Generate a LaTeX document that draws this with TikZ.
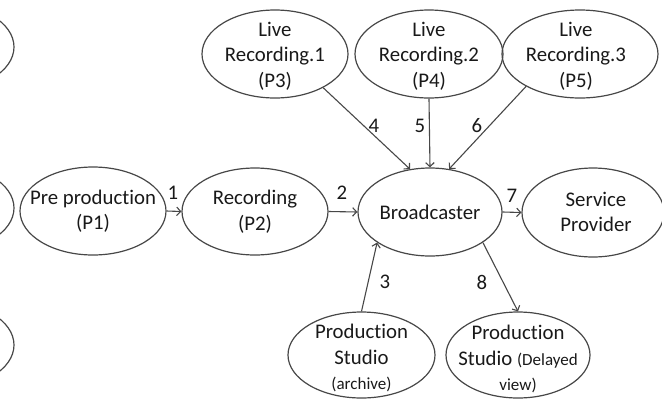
\documentclass[tikz,border=0pt]{standalone}
\usepackage{fontspec}
\setmainfont{Carlito}[Ligatures=NoCommon]
\usetikzlibrary{shapes.geometric,arrows.meta}
\newcommand{\smallfont}{\fontsize{17}{21}\selectfont}
\begin{document}
\begin{tikzpicture}[x=1pt,y=-1pt,
  bubble/.style={ellipse, draw=black!72, line width=1.2pt, inner sep=0pt,
    minimum width=146pt, minimum height=88pt},
  txt/.style={align=center, inner sep=0pt, text=black!90,
    font=\fontsize{20.8}{25.5}\selectfont},
  lbl/.style={inner sep=0pt, text=black!90, font=\fontsize{20.8}{24}\selectfont},
  flow/.style={draw=black!72, line width=1.1pt,
    -{Straight Barb[length=4pt,width=8.5pt,line width=1.1pt]}}]
\useasboundingbox (0,0) rectangle (662,400);
\clip (0,0) rectangle (662,400);

% partly hidden processes at the left margin
\node[bubble] (h1) at (-59,47) {};
\node[bubble] (h2) at (-59,208) {};
\node[bubble] (h3) at (-59,345) {};

% process bubbles
\node[bubble] (pre) at (93,211) {};
\node[bubble, minimum height=87pt] (rec) at (255,211.5) {};
\node[bubble, minimum width=144pt] (bc) at (430,212) {};
\node[bubble, minimum width=142pt, minimum height=89pt] (sp) at (593,212.5) {};
\node[bubble] (l1) at (275,54) {};
\node[bubble, minimum width=148pt] (l2) at (429,54) {};
\node[bubble, minimum width=156pt] (l3) at (580,54) {};
\node[bubble, minimum width=147pt, minimum height=86pt] (ps1) at (361.5,355) {};
\node[bubble, minimum width=144pt, minimum height=86pt] (ps2) at (518,355) {};

% bubble texts
\node[txt] (pret) at (pre) {Pre production\\(P1)};
\node[txt] (rect) at (rec) {Recording\\(P2)};
\node[txt] (bct) at (bc) {Broadcaster};
\node[txt] (spt) at (596,212) {Service\\Provider};
\node[txt] (l1t) at (275,56) {Live\\Recording.1\\(P3)};
\node[txt] (l2t) at (429,56) {Live\\Recording.2\\(P4)};
\node[txt] (l3t) at (576,56) {Live\\Recording.3\\(P5)};
\node[txt] (ps1t) at (361.5,358) {Production\\Studio\\{\smallfont(archive)}};
\node[txt] (ps2t) at (518,359) {Production\\Studio {\smallfont(Delayed}\\{\smallfont view)}};

% data flows
\draw[flow] (pre.east) -- (rec.west);
\draw[flow] (rec.east) -- (bc.west);
\draw[flow] (bc.east) -- (sp.west);
\draw[flow] (l1.-35.6) -- (bc.115);
\draw[flow] (l2.south) -- (bc.north);
\draw[flow] (l3.211.7) -- (bc.66.8);
\draw[flow] (ps1.north) -- (bc.210.8);
\draw[flow] (bc.-30.8) -- (ps2.north);

% flow numbers
\node[lbl] (n1) at (173,193) {1};
\node[lbl] (n2) at (342,193) {2};
\node[lbl] (n3) at (385,282) {3};
\node[lbl] (n4) at (374,126) {4};
\node[lbl] (n5) at (420,126) {5};
\node[lbl] (n6) at (477,126) {6};
\node[lbl] (n7) at (512,196) {7};
\node[lbl] (n8) at (482,282) {8};
\end{tikzpicture}
\end{document}
